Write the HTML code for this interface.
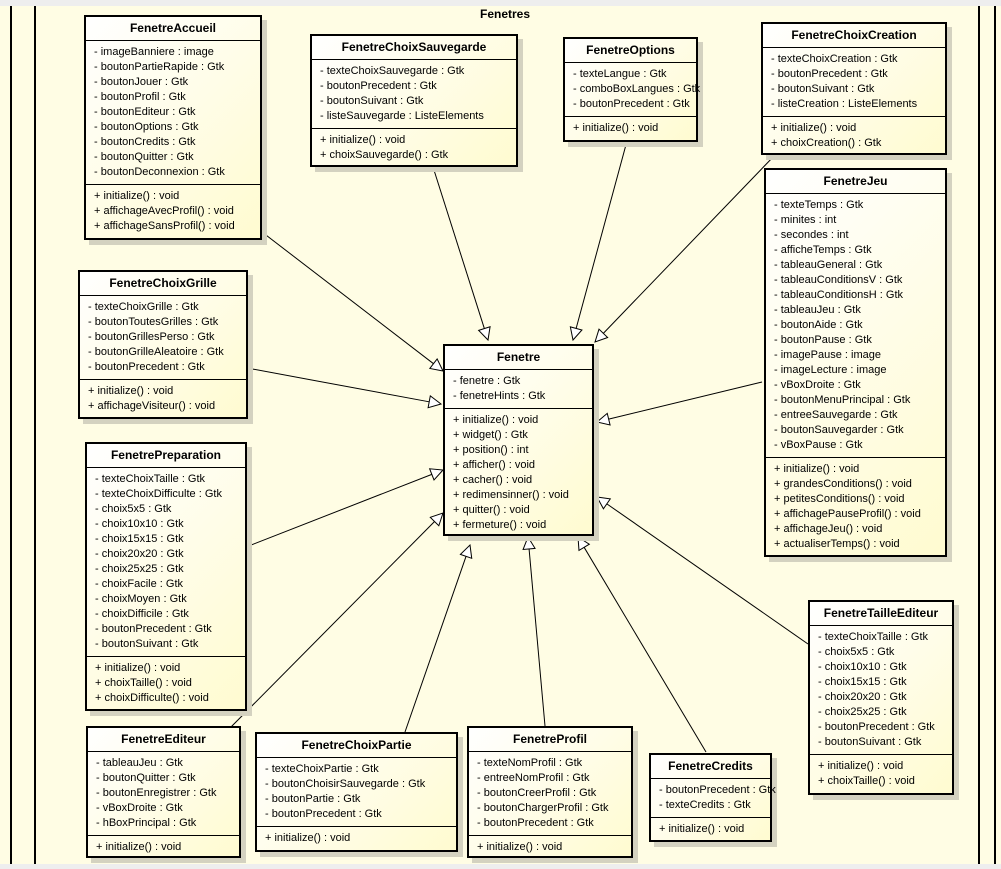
<!DOCTYPE html>
<html><head><meta charset="utf-8"><style>
body{margin:0;width:1001px;height:869px;overflow:hidden;background:#fffde4;font-family:"Liberation Sans",Arial,sans-serif;position:relative}
.box{position:absolute;border:2px solid #000;background:linear-gradient(135deg,#ffffff 0%,#fffbd0 100%);box-shadow:5px 5px 0 #d4d2c0;box-sizing:border-box;font-size:11px;color:#000}
.h{font-weight:bold;text-align:center;height:23px;line-height:22px;border-bottom:1px solid #000;font-size:12px}
.s{padding:4px 0 4px 8px;line-height:15px;white-space:nowrap}
.s+.s{border-top:1px solid #000}
svg{position:absolute;left:0;top:0}
</style></head><body>
<div style="position:absolute;left:0;top:0;width:1001px;height:6px;background:#eee"></div>
<div style="position:absolute;left:0;top:864px;width:1001px;height:5px;background:#eee"></div>
<svg width="1001" height="869">
<line x1="11" y1="6" x2="11" y2="864" stroke="#000" stroke-width="2"/>
<line x1="35" y1="6" x2="35" y2="864" stroke="#000" stroke-width="2"/>
<line x1="979" y1="6" x2="979" y2="864" stroke="#000" stroke-width="2"/>
<line x1="995" y1="6" x2="995" y2="864" stroke="#000" stroke-width="2"/>
<text x="505" y="18" font-size="12" font-weight="bold" text-anchor="middle" font-family="Liberation Sans">Fenetres</text>
<g id="ln" stroke="#000" stroke-width="1" fill="none"></g>
<g fill="#fff" stroke="#000" id="arr"></g>
</svg>
<script>
var L=[[262,232,443,371],[433,167,488,340],[627,141,573,340],[775,155,595,342],[762,382,597,422],[247,368,441,404],[246,547,443,470],[230,728,443,513],[405,732,470,545],[545,726,528,537],[706,752,578,537],[808,644,597,497]];
var g=document.getElementById('arr'),s='',l='';
L.forEach(function(a){var dx=a[2]-a[0],dy=a[3]-a[1],d=Math.hypot(dx,dy),ux=dx/d,uy=dy/d,bx=a[2]-ux*12,by=a[3]-uy*12;
l+='<line x1="'+a[0]+'" y1="'+a[1]+'" x2="'+bx+'" y2="'+by+'"/>';
s+='<polygon points="'+a[2]+','+a[3]+' '+(bx-uy*6)+','+(by+ux*6)+' '+(bx+uy*6)+','+(by-ux*6)+'"/>';});
g.innerHTML=s;document.getElementById('ln').innerHTML=l;
</script>

<div class="box" style="left:84px;top:15px;width:178px;height:225px"><div class="h">FenetreAccueil</div><div class="s">- imageBanniere : image<br>- boutonPartieRapide : Gtk<br>- boutonJouer : Gtk<br>- boutonProfil : Gtk<br>- boutonEditeur : Gtk<br>- boutonOptions : Gtk<br>- boutonCredits : Gtk<br>- boutonQuitter : Gtk<br>- boutonDeconnexion : Gtk</div><div class="s">+ initialize() : void<br>+ affichageAvecProfil() : void<br>+ affichageSansProfil() : void</div></div>

<div class="box" style="left:310px;top:34px;width:208px;height:133px"><div class="h">FenetreChoixSauvegarde</div><div class="s">- texteChoixSauvegarde : Gtk<br>- boutonPrecedent : Gtk<br>- boutonSuivant : Gtk<br>- listeSauvegarde : ListeElements</div><div class="s">+ initialize() : void<br>+ choixSauvegarde() : Gtk</div></div>

<div class="box" style="left:563px;top:37px;width:135px;height:105px"><div class="h">FenetreOptions</div><div class="s">- texteLangue : Gtk<br>- comboBoxLangues : Gtk<br>- boutonPrecedent : Gtk</div><div class="s">+ initialize() : void</div></div>

<div class="box" style="left:761px;top:22px;width:186px;height:133px"><div class="h">FenetreChoixCreation</div><div class="s">- texteChoixCreation : Gtk<br>- boutonPrecedent : Gtk<br>- boutonSuivant : Gtk<br>- listeCreation : ListeElements</div><div class="s">+ initialize() : void<br>+ choixCreation() : Gtk</div></div>

<div class="box" style="left:764px;top:168px;width:183px;height:389px"><div class="h">FenetreJeu</div><div class="s">- texteTemps : Gtk<br>- minites : int<br>- secondes : int<br>- afficheTemps : Gtk<br>- tableauGeneral : Gtk<br>- tableauConditionsV : Gtk<br>- tableauConditionsH : Gtk<br>- tableauJeu : Gtk<br>- boutonAide : Gtk<br>- boutonPause : Gtk<br>- imagePause : image<br>- imageLecture : image<br>- vBoxDroite : Gtk<br>- boutonMenuPrincipal : Gtk<br>- entreeSauvegarde : Gtk<br>- boutonSauvegarder : Gtk<br>- vBoxPause : Gtk</div><div class="s">+ initialize() : void<br>+ grandesConditions() : void<br>+ petitesConditions() : void<br>+ affichagePauseProfil() : void<br>+ affichageJeu() : void<br>+ actualiserTemps() : void</div></div>

<div class="box" style="left:78px;top:270px;width:170px;height:149px"><div class="h">FenetreChoixGrille</div><div class="s">- texteChoixGrille : Gtk<br>- boutonToutesGrilles : Gtk<br>- boutonGrillesPerso : Gtk<br>- boutonGrilleAleatoire : Gtk<br>- boutonPrecedent : Gtk</div><div class="s">+ initialize() : void<br>+ affichageVisiteur() : void</div></div>

<div class="box" style="left:443px;top:344px;width:151px;height:192px"><div class="h">Fenetre</div><div class="s">- fenetre : Gtk<br>- fenetreHints : Gtk</div><div class="s">+ initialize() : void<br>+ widget() : Gtk<br>+ position() : int<br>+ afficher() : void<br>+ cacher() : void<br>+ redimensinner() : void<br>+ quitter() : void<br>+ fermeture() : void</div></div>

<div class="box" style="left:85px;top:442px;width:162px;height:269px"><div class="h">FenetrePreparation</div><div class="s">- texteChoixTaille : Gtk<br>- texteChoixDifficulte : Gtk<br>- choix5x5 : Gtk<br>- choix10x10 : Gtk<br>- choix15x15 : Gtk<br>- choix20x20 : Gtk<br>- choix25x25 : Gtk<br>- choixFacile : Gtk<br>- choixMoyen : Gtk<br>- choixDifficile : Gtk<br>- boutonPrecedent : Gtk<br>- boutonSuivant : Gtk</div><div class="s">+ initialize() : void<br>+ choixTaille() : void<br>+ choixDifficulte() : void</div></div>

<div class="box" style="left:808px;top:600px;width:146px;height:195px"><div class="h">FenetreTailleEditeur</div><div class="s">- texteChoixTaille : Gtk<br>- choix5x5 : Gtk<br>- choix10x10 : Gtk<br>- choix15x15 : Gtk<br>- choix20x20 : Gtk<br>- choix25x25 : Gtk<br>- boutonPrecedent : Gtk<br>- boutonSuivant : Gtk</div><div class="s">+ initialize() : void<br>+ choixTaille() : void</div></div>

<div class="box" style="left:86px;top:726px;width:155px;height:132px"><div class="h">FenetreEditeur</div><div class="s">- tableauJeu : Gtk<br>- boutonQuitter : Gtk<br>- boutonEnregistrer : Gtk<br>- vBoxDroite : Gtk<br>- hBoxPrincipal : Gtk</div><div class="s">+ initialize() : void</div></div>

<div class="box" style="left:255px;top:732px;width:203px;height:120px"><div class="h">FenetreChoixPartie</div><div class="s">- texteChoixPartie : Gtk<br>- boutonChoisirSauvegarde : Gtk<br>- boutonPartie : Gtk<br>- boutonPrecedent : Gtk</div><div class="s">+ initialize() : void</div></div>

<div class="box" style="left:467px;top:726px;width:166px;height:132px"><div class="h">FenetreProfil</div><div class="s">- texteNomProfil : Gtk<br>- entreeNomProfil : Gtk<br>- boutonCreerProfil : Gtk<br>- boutonChargerProfil : Gtk<br>- boutonPrecedent : Gtk</div><div class="s">+ initialize() : void</div></div>

<div class="box" style="left:649px;top:753px;width:123px;height:89px"><div class="h">FenetreCredits</div><div class="s">- boutonPrecedent : Gtk<br>- texteCredits : Gtk</div><div class="s">+ initialize() : void</div></div>
</body></html>
